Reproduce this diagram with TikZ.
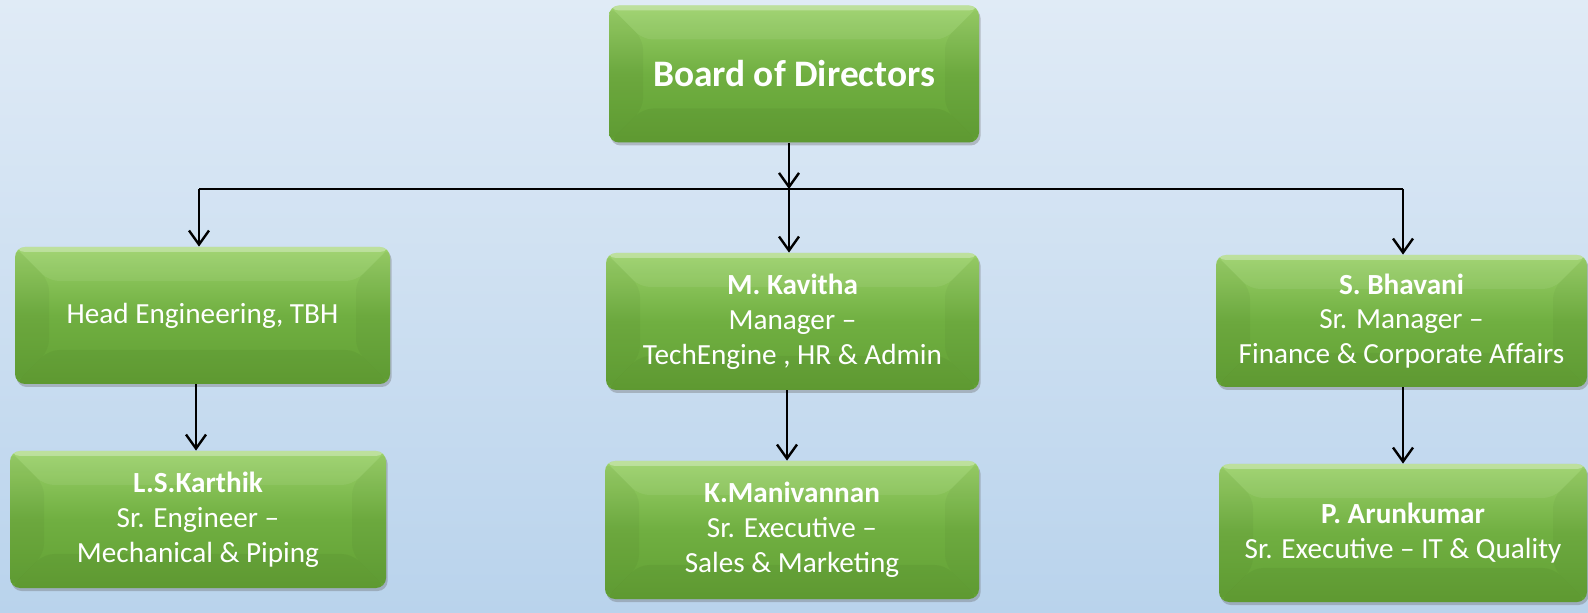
\documentclass[tikz,border=0pt]{standalone}
\usepackage{fontspec}
\setmainfont{Carlito}
\usetikzlibrary{arrows.meta,calc,shadows}
\definecolor{bgtop}{HTML}{E0EBF6}
\definecolor{bgbot}{HTML}{B9D3EC}
\definecolor{gtop}{HTML}{9BD16A}
\definecolor{gmid}{HTML}{70AF41}
\definecolor{gbot}{HTML}{62A034}
\tikzset{
  gbox/.style={rectangle, rounded corners=5pt, inner sep=0pt, align=center,
    text=white, font=\fontsize{14.6}{17.4}\selectfont,
    top color=gtop, bottom color=gbot, middle color=gmid,
    drop shadow={shadow xshift=0.8pt, shadow yshift=-1.5pt, opacity=0.35, fill=black!60},
    path picture={
      \coordinate (NW) at (path picture bounding box.north west);
      \coordinate (NE) at (path picture bounding box.north east);
      \coordinate (SW) at (path picture bounding box.south west);
      \coordinate (SE) at (path picture bounding box.south east);
      \fill[white, opacity=0.07] (NW) -- (NE) -- ($(NE)+(-17pt,-17pt)$) -- ($(NW)+(17pt,-17pt)$) -- cycle;
      \fill[black, opacity=0.035] (NW) -- ($(NW)+(17pt,-17pt)$) -- ($(SW)+(17pt,17pt)$) -- (SW) -- cycle;
      \fill[black, opacity=0.03] (NE) -- ($(NE)+(-17pt,-17pt)$) -- ($(SE)+(-17pt,17pt)$) -- (SE) -- cycle;
      \fill[black, opacity=0.04] (SW) -- ($(SW)+(17pt,17pt)$) -- ($(SE)+(-17pt,17pt)$) -- (SE) -- cycle;
      \fill[white, opacity=0.3] (NW) rectangle ($(NE)+(0,-2.5pt)$);
    }},
  conn/.style={line width=1.2pt, draw=black},
  arr/.style={conn, -{Straight Barb[length=7pt, width=10pt]}}
}
\begin{document}
\begin{tikzpicture}[x=0.5pt, y=-0.5pt]
\useasboundingbox (0,0) rectangle (1588,613);
\shade[top color=bgtop, bottom color=bgbot] (0,0) rectangle (1588,613);

\node[gbox, minimum width=185pt, minimum height=68.5pt, font=\bfseries\fontsize{18.7}{22}\selectfont] (bod) at (794,74) {Board of Directors};

\node[gbox, minimum width=187.5pt, minimum height=68.5pt] (he) at (202.5,315.5) {Head Engineering, TBH};
\node[gbox, minimum width=186.5pt, minimum height=68.5pt] (mk) at (792.5,321.5) {\textbf{M. Kavitha}\\Manager --\\TechEngine , HR \& Admin};
\node[gbox, minimum width=185.5pt, minimum height=66pt] (sb) at (1401.5,321) {\textbf{S. Bhavani}\\Sr. Manager --\\Finance \& Corporate Affairs};

\node[gbox, minimum width=188pt, minimum height=68.5pt] (lk) at (198,519.5) {\textbf{L.S.Karthik}\\Sr. Engineer --\\Mechanical \& Piping};
\node[gbox, minimum width=187pt, minimum height=69pt] (km) at (792,530) {\textbf{K.Manivannan}\\Sr. Executive --\\Sales \& Marketing};
\node[gbox, minimum width=184pt, minimum height=69pt] (pa) at (1403,533) {\textbf{P. Arunkumar}\\Sr. Executive -- IT \& Quality};

\coordinate (j) at (789,189);
\coordinate (jl) at (199,189);
\coordinate (jr) at (1403,189);
\coordinate (c1) at (196,0);
\coordinate (c2) at (787,0);
\coordinate (c3) at (1403,0);

\draw[arr] (j |- bod.south) -- (j);
\draw[conn] (jl) -- (jr);
\draw[arr] (jl) -- (jl |- he.north);
\draw[arr] (j) -- (j |- mk.north);
\draw[arr] (jr) -- (jr |- sb.north);

\draw[arr] (c1 |- he.south) -- (c1 |- lk.north);
\draw[arr] (c2 |- mk.south) -- (c2 |- km.north);
\draw[arr] (c3 |- sb.south) -- (c3 |- pa.north);
\end{tikzpicture}
\end{document}
